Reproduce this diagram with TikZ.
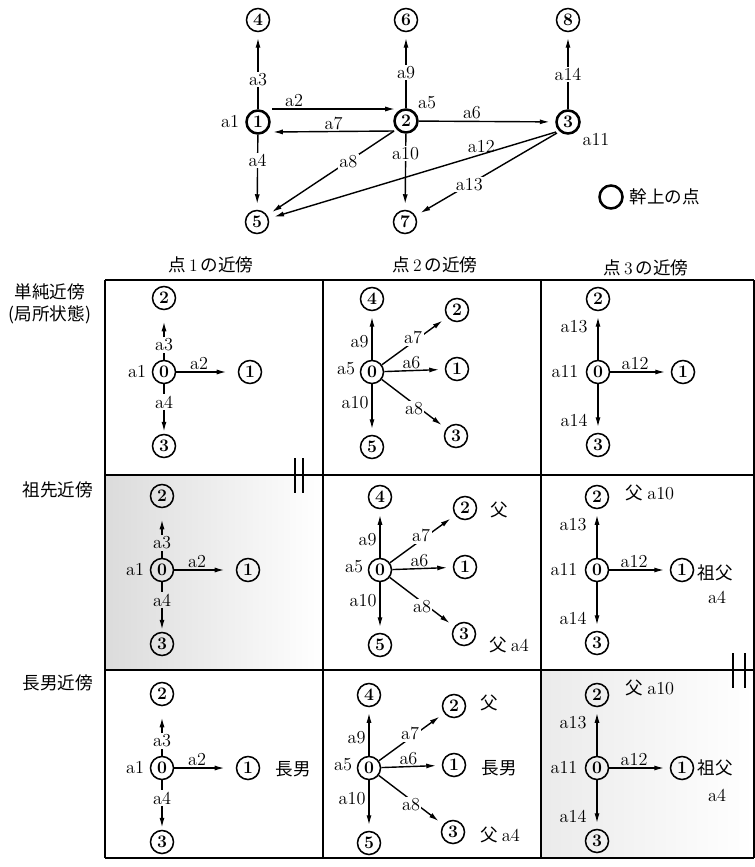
\documentclass[tikz,border=0pt]{standalone}
\usepackage{fontspec}
\newfontfamily\jp{Noto Sans CJK JP}
\newcommand\jsize{\fontsize{12.5}{15.6}\selectfont}
\newcommand\lsize{\fontsize{13}{15}\selectfont}
\usetikzlibrary{
  arrows.meta,%
  calc,%
  positioning
}
\tikzset{>={Latex[length=7pt,width=3.6pt]}}
\tikzset{
  vert/.style={circle, draw, line width=1.1pt, minimum size=0.575cm,
    inner sep=0pt, font=\fontsize{12.5}{14}\selectfont\bfseries},
  trunk/.style={vert, line width=1.8pt},
  lbl/.style={font=\lsize, inner sep=1pt},
  cutlbl/.style={lbl, fill=white},
  jtxt/.style={font=\jp\jsize, inner sep=1pt},
  link/.style={->, line width=1pt, shorten >=4pt},
  tabline/.style={line width=1.3pt}
}

\begin{document}
\begin{tikzpicture}[x=0.025cm, y=-0.025cm]
  \useasboundingbox (0,0) rectangle (755,867);
  % graph of the whole structure
  \node[vert] (n4) at (258,20) {4};
  \node[vert] (n6) at (406,20) {6};
  \node[vert] (n8) at (568,20) {8};
  \node[trunk] (n1) at (258,122) {1};
  \node[trunk] (n2) at (406,121) {2};
  \node[trunk] (n3) at (568,122) {3};
  \node[vert] (n5) at (257,222) {5};
  \node[vert] (n7) at (405,222) {7};
  \node[lbl] (l1) at (230,122) {a1};
  \node[lbl] (l5) at (427,103) {a5};
  \node[lbl] (l11) at (596,140) {a11};
  \coordinate (n1hi) at ($(n1)+(14,-13)$);
  \coordinate (n1lo) at ($(n1)+(15,10)$);
  \coordinate (n2hi) at ($(n2)+(-11,-12)$);
  \coordinate (n2lo) at ($(n2)+(-12,10)$);
  \coordinate (n3lo) at ($(n3)+(-12,10)$);
  \coordinate (n3lb) at ($(n3)+(-11,11)$);
  \draw[link] (n1) -- node[cutlbl,pos=.39]{a3} (n4);
  \draw[link] (n1) -- node[cutlbl,pos=.34]{a4} (n5);
  \draw[link] (n2) -- node[cutlbl,pos=.47]{a9} (n6);
  \draw[link] (n2) -- node[cutlbl,pos=.26]{a10} (n7);
  \draw[link] (n3) -- node[cutlbl,pos=.45]{a14} (n8);
  \draw[link,shorten >=0pt] (n1hi) -- node[lbl,above,pos=.18]{a2} (n2hi);
  \draw[link,shorten >=0pt] (n2lo) -- node[lbl,above,pos=.5]{a7} (n1lo);
  \draw[link] (n2) -- node[lbl,above,pos=.39]{a6} (n3);
  \draw[link] (n2lo) -- node[cutlbl,pos=.36]{a8} (n5);
  \draw[link] (n3lo) -- node[lbl,above,pos=.26]{a12} (n5);
  \draw[link] (n3lb) -- node[cutlbl,pos=.62]{a13} (n7);
  % legend
  \node[trunk] (lg) at (611,197) {};
  \node[jtxt, right=3pt of lg] (lgtxt) {幹上の点};

  % headers
  \node[jtxt] (h1) at (211,265) {点\,{\rmfamily 1}\,の近傍};
  \node[jtxt] (h2) at (435,265) {点\,{\rmfamily 2}\,の近傍};
  \node[jtxt] (h3) at (646,268) {点\,{\rmfamily 3}\,の近傍};
  \node[jtxt, align=center] (r1) at (50,304) {単純近傍\\(局所状態)};
  \node[jtxt] (r2) at (58,490) {祖先近傍};
  \node[jtxt] (r3) at (58,683) {長男近傍};

  % table
  \shade[left color=gray!28, right color=white] (105,475) rectangle (323,670);
  \shade[left color=gray!16, right color=white] (541,670) rectangle (754,858);
  \foreach \y in {280,475,670,858}
    \draw[tabline] (105,\y) -- (754,\y);
  \foreach \x in {105,323,541,754}
    \draw[tabline] (\x,280) -- (\x,858);
  \foreach \x in {295,303}
    \draw[line width=1.5pt] (\x,458) -- (\x,493);
  \foreach \x in {733,745}
    \draw[line width=1.5pt] (\x,653) -- (\x,688);

  % neighbourhoods of the points 1, 2, 3
  \foreach \r/\yy/\xa/\xb/\xc in {1/372/164/372/598, 2/570/162/380/597, 3/768/162/369/597} {
    % point 1
    \node[vert] (p\r-0) at (\xa,\yy) {0};
    \node[vert] (p\r-2) at (\xa,\yy-74) {2};
    \node[vert] (p\r-1) at (\xa+86,\yy) {1};
    \node[vert] (p\r-3) at (\xa,\yy+74) {3};
    \node[lbl] (p\r-a1) at (\xa-27,\yy) {a1};
    \node[lbl] (p\r-a3) at (\xa,\yy-27) {a3};
    \node[lbl] (p\r-a4) at (\xa,\yy+30) {a4};
    \draw[line width=1pt] (p\r-0) -- (p\r-a3) (p\r-0) -- (p\r-a4);
    \draw[link,shorten >=8pt] (p\r-a3) -- (p\r-2);
    \draw[link,shorten >=1.5pt] (p\r-a4) -- (p\r-3);
    \draw[link,shorten >=8pt] (p\r-0) -- node[lbl,above,pos=.37]{a2} (p\r-1);
    % point 2
    \node[vert] (q\r-0) at (\xb,\yy) {0};
    \node[vert] (q\r-4) at (\xb,\yy-73) {4};
    \node[vert] (q\r-2) at (\xb+85,\yy-62) {2};
    \node[vert] (q\r-1) at (\xb+85,\yy-3) {1};
    \node[vert] (q\r-3) at (\xb+84,\yy+64) {3};
    \node[vert] (q\r-5) at (\xb,\yy+75) {5};
    \node[lbl] (q\r-a5) at (\xb-26,\yy-3) {a5};
    \draw[link] (q\r-0) -- node[lbl,left=1pt,pos=.37]{a9} (q\r-4);
    \draw[link] (q\r-0) -- node[lbl,left=1pt,pos=.37]{a10} (q\r-5);
    \draw[link] (q\r-0) -- node[cutlbl,pos=.48,yshift=3pt]{a7} (q\r-2);
    \draw[link] (q\r-0) -- node[lbl,above,pos=.45]{a6} (q\r-1);
    \draw[link] (q\r-0) -- node[cutlbl,pos=.5,yshift=-3pt]{a8} (q\r-3);
    % point 3
    \node[vert] (s\r-0) at (\xc,\yy) {0};
    \node[vert] (s\r-2) at (\xc,\yy-73) {2};
    \node[vert] (s\r-1) at (\xc+85,\yy) {1};
    \node[vert] (s\r-3) at (\xc,\yy+73) {3};
    \node[lbl] (s\r-a11) at (\xc-33,\yy) {a11};
    \draw[link] (s\r-0) -- node[lbl,left=6pt,pos=.69]{a13} (s\r-2);
    \draw[link] (s\r-0) -- node[lbl,above,pos=.41]{a12} (s\r-1);
    \draw[link] (s\r-0) -- node[lbl,left=6pt,pos=.75]{a14} (s\r-3);
  }

  % relations
  \node[jtxt] (q2-f2) at (499,510) {父};
  \node[jtxt] (q2-f3) at (509,645) {父\ {\rmfamily\lsize a4}};
  \node[jtxt] (s2-f2) at (650,493) {父\ {\rmfamily\lsize a10}};
  \node[jtxt] (s2-g1) at (715,573) {祖父};
  \node[lbl] (s2-g1b) at (717,597) {a4};
  \node[jtxt] (p3-e1) at (293,769) {長男};
  \node[jtxt] (q3-f2) at (489,703) {父};
  \node[jtxt] (q3-e1) at (499,768) {長男};
  \node[jtxt] (q3-f3) at (500,835) {父\ {\rmfamily\lsize a4}};
  \node[jtxt] (s3-f2) at (650,688) {父\ {\rmfamily\lsize a10}};
  \node[jtxt] (s3-g1) at (715,768) {祖父};
  \node[lbl] (s3-g1b) at (717,795) {a4};
\end{tikzpicture}
\end{document}
